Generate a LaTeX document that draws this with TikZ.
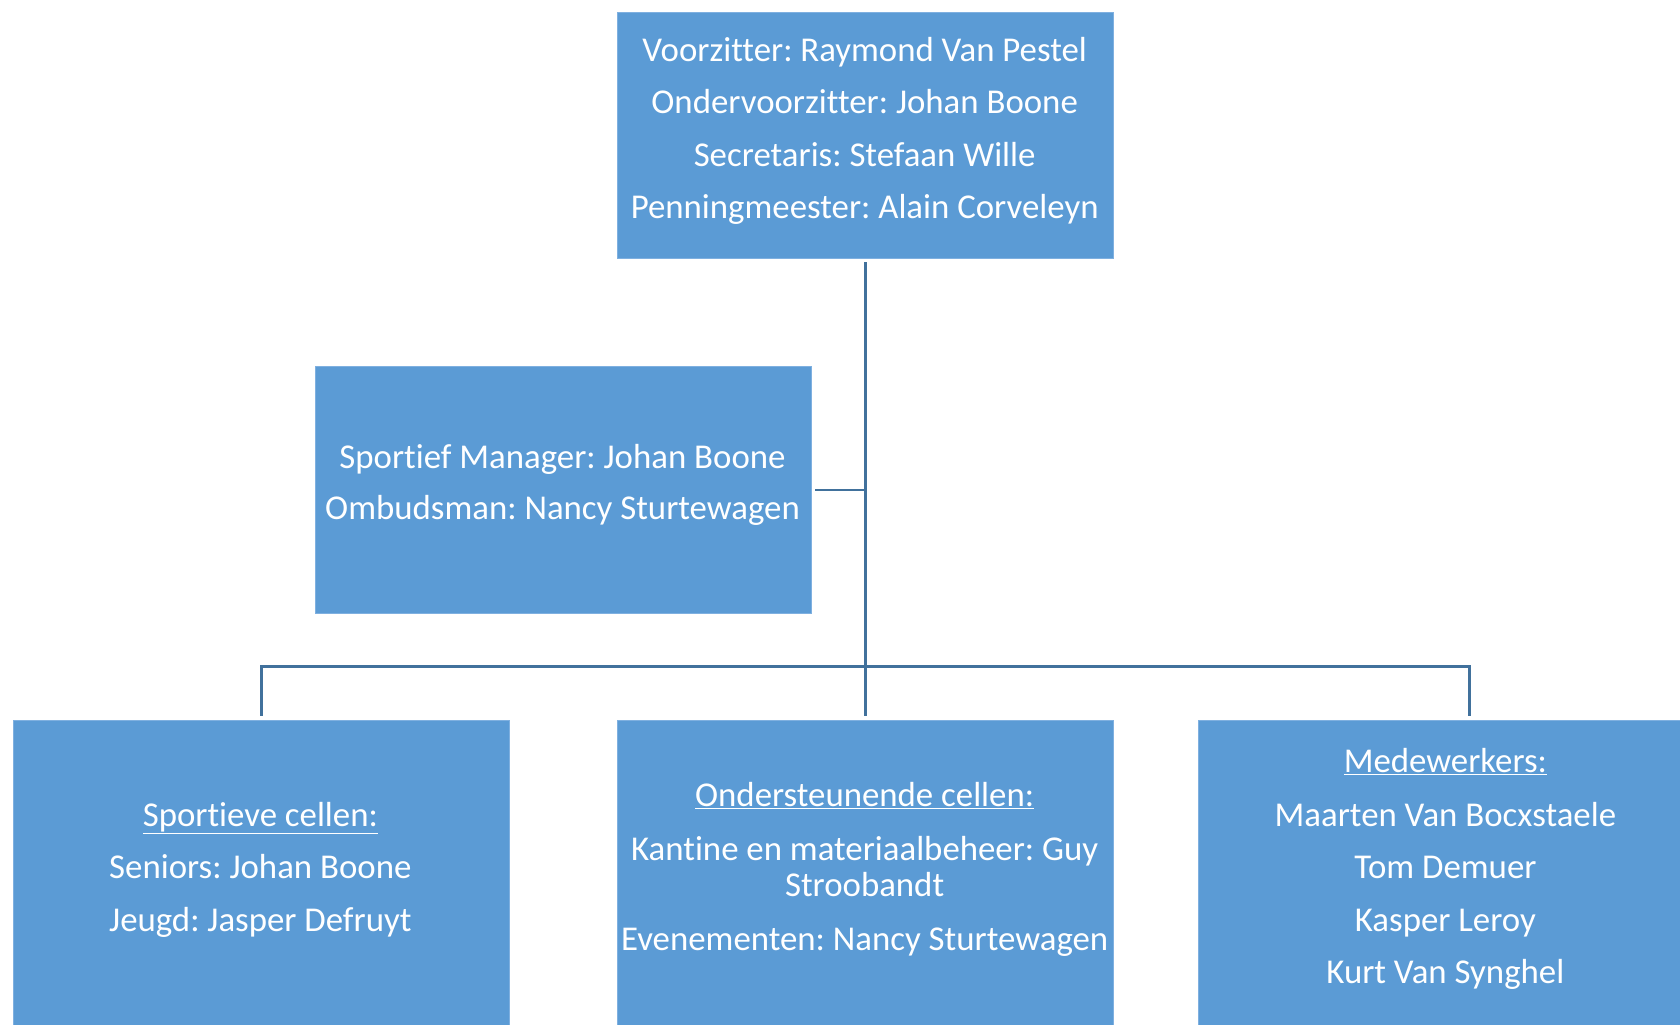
\documentclass[tikz,border=0pt]{standalone}
\usepackage{fontspec}
\setmainfont[Ligatures={NoCommon}]{Carlito}
\frenchspacing
\definecolor{boxblue}{HTML}{5B9BD5}
\definecolor{boxedge}{HTML}{7FB0E0}
\definecolor{linkblue}{HTML}{41719C}
\begin{document}
\frenchspacing
\begin{tikzpicture}[x=1pt,y=-1pt,
  orgbox/.style={draw=boxedge, line width=0.8pt, fill=boxblue, rectangle, inner sep=0pt, anchor=north west, minimum width=463pt},
  txt/.style={text=white, anchor=base, inner sep=0pt, font=\fontsize{32.5}{39}\selectfont\frenchspacing},
  link/.style={draw=linkblue, line width=2.4pt}]
\useasboundingbox (0,0) rectangle (1568,956);
% boxes
\node[orgbox, minimum height=230pt] (top) at (576,11) {};
\node[orgbox, minimum height=230pt] (sm) at (294,342) {};
\node[orgbox, minimum height=330pt] (sc) at (12,672) {};
\node[orgbox, minimum height=330pt] (oc) at (576,672) {};
\node[orgbox, minimum height=330pt] (mw) at (1118,672) {};
% texts
\node[txt] (t1) at (807,57) {Voorzitter: Raymond Van Pestel};
\node[txt] (t2) at (807,106) {Ondervoorzitter: Johan Boone};
\node[txt] (t3) at (807,155) {Secretaris: Stefaan Wille};
\node[txt] (t4) at (807,204) {Penningmeester: Alain Corveleyn};
\node[txt] (s1) at (525,437) {Sportief Manager: Johan Boone};
\node[txt] (s2) at (525,485) {Ombudsman: Nancy Sturtewagen};
\node[txt] (c1) at (243,771) {\underline{Sportieve cellen:}};
\node[txt] (c2) at (243,820) {Seniors: Johan Boone};
\node[txt] (c3) at (243,869) {Jeugd: Jasper Defruyt};
\node[txt] (o1) at (807,753) {\underline{Ondersteunende cellen:}};
\node[txt] (o2) at (807,803) {Kantine en materiaalbeheer: Guy};
\node[txt] (o3) at (807,837) {Stroobandt};
\node[txt] (o4) at (807,887) {Evenementen: Nancy Sturtewagen};
\node[txt] (m1) at (1349,721) {\underline{Medewerkers:}};
\node[txt] (m2) at (1349,771) {Maarten Van Bocxstaele};
\node[txt] (m3) at (1349,820) {Tom Demuer};
\node[txt] (m4) at (1349,869) {Kasper Leroy};
\node[txt] (m5) at (1349,918) {Kurt Van Synghel};
% connectors
\coordinate (barmid) at (807,622);
\draw[link] ([yshift=-3pt]top.south) -- ([yshift=4pt]oc.north);
\draw[link] ([xshift=3pt]sm.east) -- (sm.east -| top.south);
\draw[link] ([yshift=4pt]sc.north) -- (sc.north |- barmid) -- ([xshift=21.5pt]mw.north |- barmid) -- ([xshift=21.5pt,yshift=4pt]mw.north);
\end{tikzpicture}
\end{document}
